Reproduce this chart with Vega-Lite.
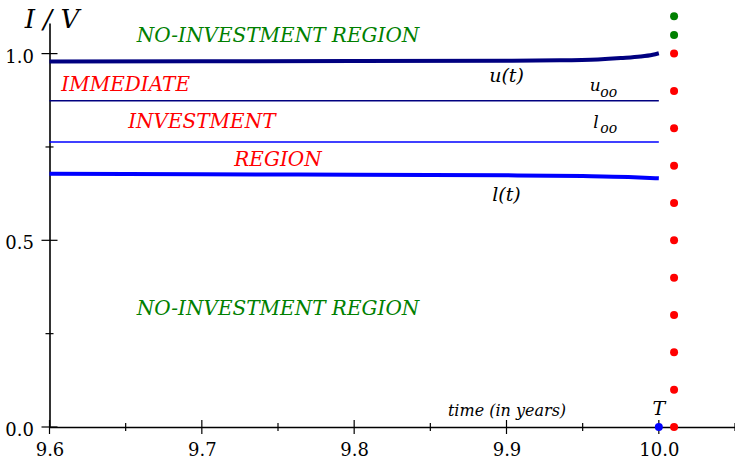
{
  "$schema": "https://vega.github.io/schema/vega-lite/v6.json",
  "width": 685.5,
  "height": 404,
  "autosize": {"type": "none"},
  "padding": {"left": 49.5, "top": 23, "right": 0, "bottom": 33},
  "background": "white",
  "config": {
    "view": {"stroke": null},
    "axis": {
      "grid": false,
      "domainColor": "black",
      "domainWidth": 1.6,
      "ticks": false,
      "tickSize": 0,
      "labelColor": "black",
      "labelFont": "DejaVu Serif",
      "labelFontSize": 18,
      "titleFont": "DejaVu Serif",
      "titleColor": "black",
      "titleFontWeight": "normal",
      "titleFontStyle": "italic"
    },
    "text": {"font": "DejaVu Serif", "fontStyle": "italic"}
  },
  "datasets": {
    "boundaries": [
      {"t": 9.6, "level": 0.979, "curve": "u"},
      {"t": 9.7, "level": 0.9795, "curve": "u"},
      {"t": 9.8, "level": 0.98, "curve": "u"},
      {"t": 9.9, "level": 0.981, "curve": "u"},
      {"t": 9.935, "level": 0.982, "curve": "u"},
      {"t": 9.96, "level": 0.9845, "curve": "u"},
      {"t": 9.975, "level": 0.988, "curve": "u"},
      {"t": 9.988, "level": 0.992, "curve": "u"},
      {"t": 9.996, "level": 0.997, "curve": "u"},
      {"t": 10.0, "level": 1.001, "curve": "u"},
      {"t": 9.6, "level": 0.678, "curve": "l"},
      {"t": 9.7, "level": 0.677, "curve": "l"},
      {"t": 9.8, "level": 0.6755, "curve": "l"},
      {"t": 9.9, "level": 0.674, "curve": "l"},
      {"t": 9.95, "level": 0.672, "curve": "l"},
      {"t": 9.98, "level": 0.6695, "curve": "l"},
      {"t": 10.0, "level": 0.666, "curve": "l"}
    ],
    "asymptotes": [
      {"t": 9.6, "level": 0.874, "curve": "u_oo"},
      {"t": 10.0, "level": 0.874, "curve": "u_oo"},
      {"t": 9.6, "level": 0.763, "curve": "l_oo"},
      {"t": 10.0, "level": 0.763, "curve": "l_oo"}
    ],
    "terminal": [
      {"t": 10.01, "level": 1.1, "kind": "wait"},
      {"t": 10.01, "level": 1.05, "kind": "wait"},
      {"t": 10.01, "level": 1.0, "kind": "invest"},
      {"t": 10.01, "level": 0.9, "kind": "invest"},
      {"t": 10.01, "level": 0.8, "kind": "invest"},
      {"t": 10.01, "level": 0.7, "kind": "invest"},
      {"t": 10.01, "level": 0.6, "kind": "invest"},
      {"t": 10.01, "level": 0.5, "kind": "invest"},
      {"t": 10.01, "level": 0.4, "kind": "invest"},
      {"t": 10.01, "level": 0.3, "kind": "invest"},
      {"t": 10.01, "level": 0.2, "kind": "invest"},
      {"t": 10.01, "level": 0.1, "kind": "invest"},
      {"t": 10.01, "level": 0.0, "kind": "invest"},
      {"t": 10.0, "level": 0.0, "kind": "horizon"}
    ],
    "timeTicks": [
      {"t": 9.6, "level": 0, "rank": "major"},
      {"t": 9.65, "level": 0, "rank": "minor"},
      {"t": 9.7, "level": 0, "rank": "major"},
      {"t": 9.75, "level": 0, "rank": "minor"},
      {"t": 9.8, "level": 0, "rank": "major"},
      {"t": 9.85, "level": 0, "rank": "minor"},
      {"t": 9.9, "level": 0, "rank": "major"},
      {"t": 9.95, "level": 0, "rank": "minor"},
      {"t": 10.0, "level": 0, "rank": "major"},
      {"t": 10.05, "level": 0, "rank": "minor"}
    ],
    "ratioTicks": [
      {"t": 9.6, "level": 0, "rank": "major"},
      {"t": 9.6, "level": 0.25, "rank": "minor"},
      {"t": 9.6, "level": 0.5, "rank": "major"},
      {"t": 9.6, "level": 0.75, "rank": "minor"},
      {"t": 9.6, "level": 1.0, "rank": "major"}
    ],
    "regions": [
      {"t": 9.75, "level": 1.03, "text": "NO-INVESTMENT REGION", "region": "wait"},
      {"t": 9.65, "level": 0.9, "text": "IMMEDIATE", "region": "invest"},
      {"t": 9.7, "level": 0.8, "text": "INVESTMENT", "region": "invest"},
      {"t": 9.75, "level": 0.7, "text": "REGION", "region": "invest"},
      {"t": 9.75, "level": 0.3, "text": "NO-INVESTMENT REGION", "region": "wait"}
    ],
    "curveLabels": [
      {"t": 9.9, "level": 0.924, "text": "u(t)"},
      {"t": 9.9, "level": 0.605, "text": "l(t)"},
      {"t": 10.0, "level": 0.032, "text": "T"}
    ],
    "limitLabels": [
      {"t": 9.9547, "level": 0.9, "text": "u"},
      {"t": 9.957, "level": 0.8, "text": "l"}
    ],
    "subscripts": [
      {"t": 9.9616, "level": 0.885, "text": "oo"},
      {"t": 9.9616, "level": 0.787, "text": "oo"}
    ]
  },
  "encoding": {
    "x": {
      "field": "t", "type": "quantitative",
      "scale": {"domain": [9.6, 10.05], "nice": false, "zero": false},
      "axis": {
        "orient": "bottom", "values": [9.6, 9.7, 9.8, 9.9, 10.0], "format": ".1f",
        "labelPadding": 14, "labelFlush": false, "labelOverlap": false,
        "title": "time (in years)", "titleFontSize": 16, "titleAnchor": null,
        "titleX": 457, "titleY": -12, "titleAlign": "center", "titleBaseline": "alphabetic"
      }
    },
    "y": {
      "field": "level", "type": "quantitative",
      "scale": {"domain": [0, 1.082], "nice": false, "zero": false},
      "axis": {
        "orient": "left", "values": [0, 0.5, 1.0], "format": ".1f",
        "labelPadding": 16, "labelOffset": 3.5, "labelFlush": false, "labelOverlap": false,
        "title": "I / V", "titleFontSize": 26, "titleAngle": 0,
        "titleX": 2, "titleY": 4, "titleAlign": "center", "titleBaseline": "alphabetic"
      }
    }
  },
  "layer": [
    {
      "data": {"name": "boundaries"},
      "mark": {"type": "line", "strokeWidth": 4, "interpolate": "monotone"},
      "encoding": {
        "detail": {"field": "curve"},
        "color": {
          "field": "curve", "type": "nominal", "legend": null,
          "scale": {"domain": ["u", "l"], "range": ["#000080", "#0000ff"]}
        }
      }
    },
    {
      "data": {"name": "asymptotes"},
      "mark": {"type": "line", "strokeWidth": 1.5},
      "encoding": {
        "detail": {"field": "curve"},
        "color": {
          "field": "curve", "type": "nominal", "legend": null,
          "scale": {"domain": ["u_oo", "l_oo"], "range": ["#000080", "#0000ff"]}
        }
      }
    },
    {
      "data": {"name": "timeTicks"},
      "mark": {"type": "tick", "orient": "vertical", "color": "black", "thickness": 1.2, "opacity": 1},
      "encoding": {
        "size": {"field": "rank", "type": "nominal", "legend": null, "scale": {"domain": ["major", "minor"], "range": [14, 8]}}
      }
    },
    {
      "data": {"name": "ratioTicks"},
      "mark": {"type": "tick", "orient": "horizontal", "color": "black", "thickness": 1.2, "opacity": 1},
      "encoding": {
        "size": {"field": "rank", "type": "nominal", "legend": null, "scale": {"domain": ["major", "minor"], "range": [16, 8]}}
      }
    },
    {
      "data": {"name": "terminal"},
      "mark": {"type": "circle", "size": 64, "opacity": 1},
      "encoding": {
        "color": {
          "field": "kind", "type": "nominal", "legend": null,
          "scale": {"domain": ["wait", "invest", "horizon"], "range": ["#008000", "#ff0000", "#0000ff"]}
        }
      }
    },
    {
      "data": {"name": "regions"},
      "mark": {"type": "text", "fontSize": 20, "align": "center", "baseline": "alphabetic"},
      "encoding": {
        "text": {"field": "text"},
        "color": {
          "field": "region", "type": "nominal", "legend": null,
          "scale": {"domain": ["wait", "invest"], "range": ["#008000", "#ff0000"]}
        }
      }
    },
    {
      "data": {"name": "curveLabels"},
      "mark": {"type": "text", "fontSize": 19, "align": "center", "baseline": "alphabetic", "color": "black"},
      "encoding": {"text": {"field": "text"}}
    },
    {
      "data": {"name": "limitLabels"},
      "mark": {"type": "text", "fontSize": 17, "align": "left", "baseline": "alphabetic", "color": "black"},
      "encoding": {"text": {"field": "text"}}
    },
    {
      "data": {"name": "subscripts"},
      "mark": {"type": "text", "fontSize": 14, "align": "left", "baseline": "alphabetic", "color": "black"},
      "encoding": {"text": {"field": "text"}}
    }
  ],
  "resolve": {"scale": {"color": "independent", "size": "independent"}}
}
